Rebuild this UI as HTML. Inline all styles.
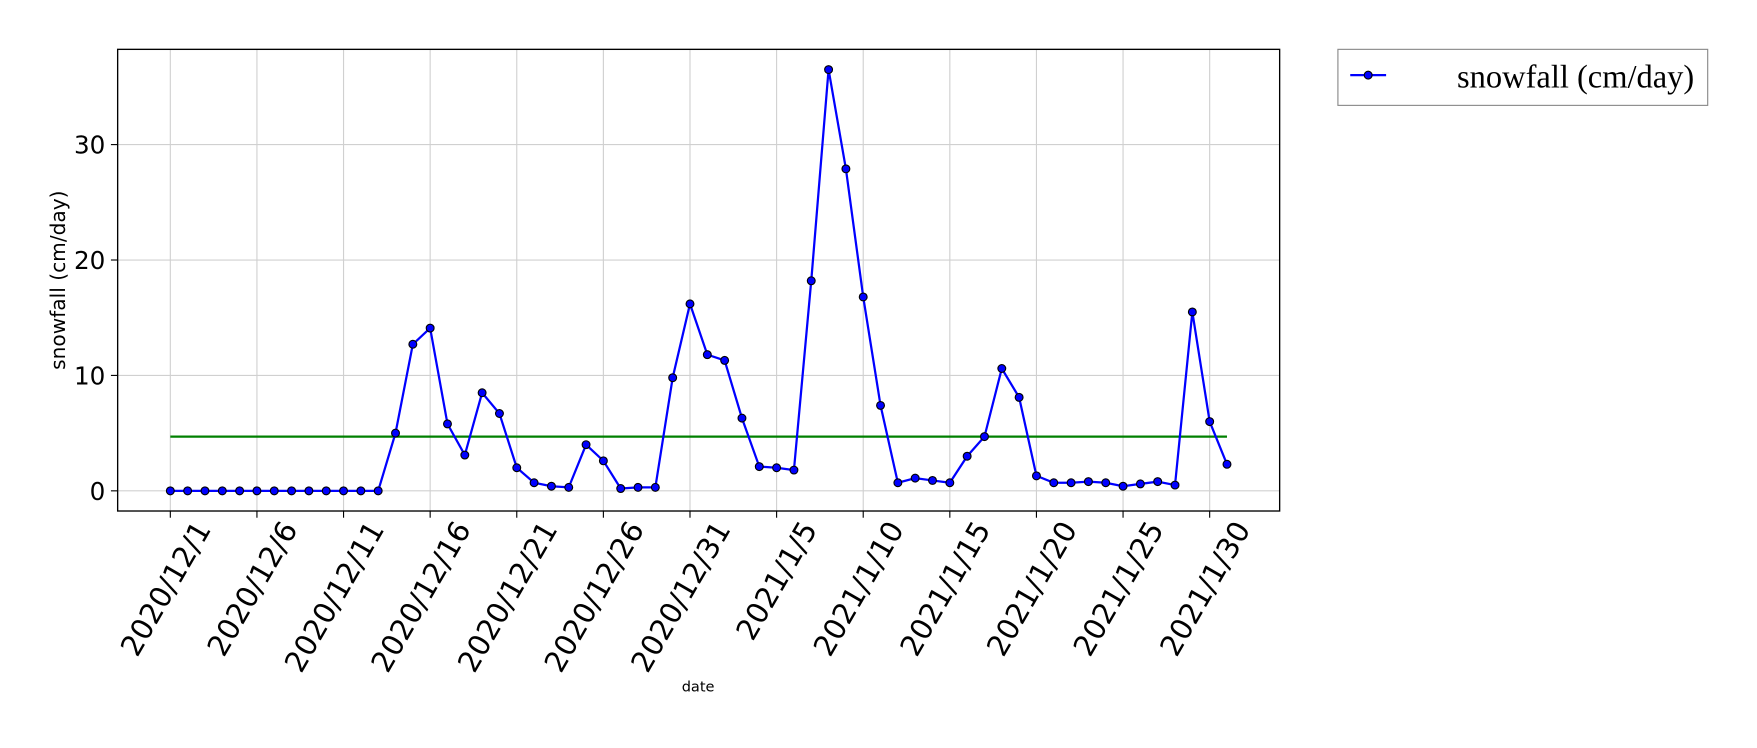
<!DOCTYPE html>
<html><head><meta charset="utf-8"><style>
body{margin:0;background:#fff;width:1757px;height:743px;overflow:hidden}
svg text{font-family:"DejaVu Sans","Liberation Sans",sans-serif}
</style></head><body>
<svg id="chart" width="1757" height="743" viewBox="0 0 1568 663" xmlns="http://www.w3.org/2000/svg">
<g id="grid"></g>
<g id="marks"></g>
<rect x="105" y="44" width="1037" height="412" fill="none" stroke="#000" stroke-width="1.2"/>
<g id="axes"></g>
<text transform="translate(58,250) rotate(-90)" text-anchor="middle" font-size="18">snowfall (cm/day)</text>
<text x="623" y="617" text-anchor="middle" font-size="13">date</text>
<g>
<rect x="1194" y="44" width="330" height="50" fill="#fff" stroke="#888" stroke-width="1"/>
<line x1="1205" y1="67" x2="1237" y2="67" stroke="#0000ff" stroke-width="2"/>
<circle cx="1221" cy="67" r="3.5" fill="#0000ff" stroke="#000" stroke-width="1"/>
<text x="1512" y="78" text-anchor="end" font-size="29" style="font-family:'Liberation Serif',serif">snowfall (cm/day)</text>
</g>
</svg>
<script>
const dates=[];
for(let d=1;d<=31;d++)dates.push('2020/12/'+d);
for(let d=1;d<=31;d++)dates.push('2021/1/'+d);
const snowfall=[0,0,0,0,0,0,0,0,0,0,0,0,0,5.0,12.7,14.1,5.8,3.1,8.5,6.7,2.0,0.7,0.4,0.3,4.0,2.6,0.2,0.3,0.3,9.8,16.2,
11.8,11.3,6.3,2.1,2.0,1.8,18.2,36.5,27.9,16.8,7.4,0.7,1.1,0.9,0.7,3.0,4.7,10.6,8.1,1.3,0.7,0.7,0.8,0.7,0.4,0.6,0.8,0.5,15.5,6.0,2.3];
const meanValue=4.7;
const yTicks=[0,10,20,30];
const xTickIdx=[0,5,10,15,20,25,30,35,40,45,50,55,60];
const NS='http://www.w3.org/2000/svg';
const X=i=>152+i*(1095-152)/61;
const Y=v=>438-v*10.3;
function mk(t,a,p){const e=document.createElementNS(NS,t);for(const k in a)e.setAttribute(k,a[k]);p.appendChild(e);return e;}
const grid=document.getElementById('grid'),axes=document.getElementById('axes'),marks=document.getElementById('marks');
yTicks.forEach(v=>{
 const g=mk('line',{x1:105,x2:1142,y1:Y(v),y2:Y(v),stroke:'#d0d0d0','stroke-width':1},grid);
 
 
 mk('line',{x1:99,x2:105,y1:Y(v),y2:Y(v),stroke:'#000'},axes);
 const t=mk('text',{x:94,y:Y(v)+8,'text-anchor':'end','font-size':22},axes);t.textContent=v;
 
 
});
xTickIdx.forEach(i=>{
 const g=mk('line',{x1:X(i),x2:X(i),y1:44,y2:456,stroke:'#d0d0d0','stroke-width':1},grid);
 
 
 mk('line',{x1:X(i),x2:X(i),y1:456,y2:462,stroke:'#000'},axes);
 const t=mk('text',{transform:`translate(${X(i)+37},472) rotate(-60)`,'text-anchor':'end','font-size':26},axes);t.textContent=dates[i];
 
 
});
const ml=mk('line',{x1:X(0),x2:X(dates.length-1),y1:Y(meanValue),y2:Y(meanValue),stroke:'#008000','stroke-width':2},marks);


const pl=mk('polyline',{points:snowfall.map((v,i)=>X(i)+','+Y(v)).join(' '),fill:'none',stroke:'#0000ff','stroke-width':2},marks);


snowfall.forEach((v,i)=>{
 const c=mk('circle',{cx:X(i),cy:Y(v),r:3.5,fill:'#0000ff',stroke:'#000','stroke-width':1},marks);
 
 
});
</script>
</body></html>
